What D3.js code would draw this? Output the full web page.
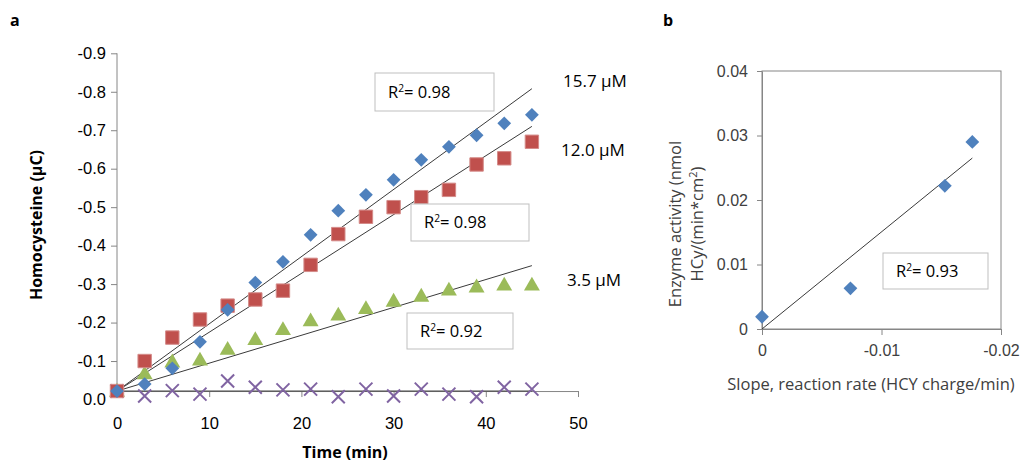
<!DOCTYPE html>
<html>
<head>
<meta charset="utf-8">
<script src="https://cdn.jsdelivr.net/npm/d3@7"></script>
<style>
  body { margin: 0; background: #fff; }
  svg { font-family: "Open Sans", sans-serif; }
  .axis-a text { font-size: 16.5px; fill: #000; }
  .axis-a path, .axis-a line { stroke: #868686; }
  .axis-b text { font-size: 16px; fill: #404040; }
  .axis-b path, .axis-b line { stroke: #868686; }
</style>
</head>
<body>
<div id="chart"></div>
<script>
// ---- panel a data (time in min, homocysteine charge in uC) ----
const times = [0, 3, 6, 9, 12, 15, 18, 21, 24, 27, 30, 33, 36, 39, 42, 45];
const hcy157 = [-0.022, -0.040, -0.081, -0.150, -0.233, -0.304, -0.358, -0.428, -0.491, -0.532, -0.571, -0.623, -0.657, -0.687, -0.718, -0.740];
const hcy120 = [-0.022, -0.100, -0.161, -0.208, -0.244, -0.260, -0.283, -0.350, -0.430, -0.475, -0.500, -0.526, -0.545, -0.611, -0.627, -0.670];
const hcy35  = [-0.022, -0.067, -0.098, -0.103, -0.131, -0.156, -0.182, -0.205, -0.220, -0.237, -0.256, -0.269, -0.285, -0.293, -0.298, -0.298];
const hcy0   = [-0.022, -0.009, -0.023, -0.014, -0.048, -0.032, -0.025, -0.027, -0.007, -0.027, -0.009, -0.027, -0.014, -0.007, -0.032, -0.027];
// trendline end values (value at t=0, value at t=45)
const trend157 = [-0.022, -0.808];
const trend120 = [-0.022, -0.710];
const trend35  = [-0.022, -0.348];
const trend0   = [-0.022, -0.022];
const concLabels = ["15.7 \u00b5M", "12.0 \u00b5M", "3.5 \u00b5M"];
const r2a = ["0.98", "0.98", "0.92"];
const xTicksA = [0, 10, 20, 30, 40, 50];
const yTicksA = [0, -0.1, -0.2, -0.3, -0.4, -0.5, -0.6, -0.7, -0.8, -0.9];
const yTickLabelsA = ["0.0", "-0.1", "-0.2", "-0.3", "-0.4", "-0.5", "-0.6", "-0.7", "-0.8", "-0.9"];
const xCrossA = -0.022;

// ---- panel b data (slope vs enzyme activity) ----
const slopes = [0, -0.0074, -0.0153, -0.0176];
const activity = [0.0019, 0.0063, 0.0222, 0.0290];
const trendB = [[0, 0], [-0.0176, 0.0265]];
const r2b = "0.93";
const xTicksB = [0, -0.01, -0.02];
const xTickLabelsB = ["0", "-0.01", "-0.02"];
const yTicksB = [0, 0.01, 0.02, 0.03, 0.04];
const yTickLabelsB = ["0", "0.01", "0.02", "0.03", "0.04"];

const W = 1020, H = 462;
const svg = d3.select("#chart").append("svg")
    .attr("width", W)
    .attr("height", H);

//---------------- panel a ----------------
const xa = d3.scaleLinear().domain([0, 50]).range([117, 578]);
const ya = d3.scaleLinear().domain([0, -0.9]).range([399.5, 53.3]);

svg.append("text").attr("x", 10).attr("y", 26)
    .style("font-weight", "bold").style("font-size", "16px").text("a");

svg.append("g").attr("class", "axis-a")
    .attr("transform", `translate(0,${ya(xCrossA)})`)
    .call(d3.axisBottom(xa).tickValues(xTicksA).tickSize(6).tickSizeOuter(0).tickPadding(20));

const gya = svg.append("g").attr("class", "axis-a")
    .attr("transform", `translate(${xa(0)},0)`)
    .call(d3.axisLeft(ya).tickValues(yTicksA).tickSize(6).tickSizeOuter(0).tickPadding(5)
        .tickFormat((d, i) => yTickLabelsA[i]));
gya.select(".domain").remove();
gya.selectAll(".tick").filter(d => d === 0).select("line").remove();
gya.append("line")
    .attr("y1", ya(-0.9)).attr("y2", ya(xCrossA))
    .attr("stroke", "#868686");

// trendlines
const trendsA = [trend157, trend120, trend35, trend0];
svg.append("g").selectAll("line")
    .data(trendsA)
    .join("line")
    .attr("x1", xa(0)).attr("x2", xa(45))
    .attr("y1", d => ya(d[0])).attr("y2", d => ya(d[1]))
    .attr("stroke", "#3a3a3a").attr("stroke-width", 1);

function pts(vals) { return times.map((t, i) => [t, vals[i]]); }

// purple crosses (0 uM)
svg.append("g").selectAll("path")
    .data(pts(hcy0))
    .join("path")
    .attr("transform", d => `translate(${xa(d[0])},${ya(d[1])})`)
    .attr("d", d3.symbol(d3.symbolX, 112))
    .attr("fill", "none").attr("stroke", "#8064A2").attr("stroke-width", 2);

// green triangles (3.5 uM)
svg.append("g").selectAll("path")
    .data(pts(hcy35))
    .join("path")
    .attr("transform", d => `translate(${xa(d[0])},${ya(d[1]) + 1})`)
    .attr("d", d3.symbol(d3.symbolTriangle, 110))
    .attr("fill", "#9BBB59");

// red squares (12.0 uM)
svg.append("g").selectAll("path")
    .data(pts(hcy120))
    .join("path")
    .attr("transform", d => `translate(${xa(d[0])},${ya(d[1])})`)
    .attr("d", d3.symbol(d3.symbolSquare, 180))
    .attr("fill", "#C0504D").attr("stroke", "#d48b89").attr("stroke-width", 1);

// blue diamonds (15.7 uM)
svg.append("g").selectAll("path")
    .data(pts(hcy157))
    .join("path")
    .attr("transform", d => `translate(${xa(d[0])},${ya(d[1])}) rotate(45)`)
    .attr("d", d3.symbol(d3.symbolSquare, 95))
    .attr("fill", "#4F81BD");

// R2 boxes
function r2box(g, x, y, w, h, val, fs) {
    g.append("rect").attr("x", x).attr("y", y).attr("width", w).attr("height", h)
        .attr("fill", "#fff").attr("stroke", "#bfbfbf");
    const t = g.append("text").attr("x", x + 13).attr("y", y + h / 2 + fs * 0.36)
        .style("font-size", fs + "px").attr("fill", "#000");
    t.append("tspan").text("R");
    t.append("tspan").attr("dy", -fs * 0.38).style("font-size", (fs * 0.62) + "px").text("2");
    t.append("tspan").attr("dy", fs * 0.38).text("= " + val);
}
const boxesA = [[375, 73, 119, 38], [411, 204, 118, 37], [407, 313, 106, 36]];
boxesA.forEach((b, i) => r2box(svg, b[0], b[1], b[2], b[3], r2a[i], 16.5));

// concentration labels
const concPos = [[563, 81], [561, 150], [567, 280]];
svg.append("g").selectAll("text")
    .data(concLabels)
    .join("text")
    .attr("x", (d, i) => concPos[i][0]).attr("y", (d, i) => concPos[i][1] + 6)
    .style("font-size", "17px").text(d => d);

// axis titles
svg.append("text")
    .attr("transform", "translate(42,225) rotate(-90)")
    .attr("text-anchor", "middle")
    .style("font-weight", "bold").style("font-size", "16px")
    .text("Homocysteine (\u00b5C)");
svg.append("text")
    .attr("x", 345).attr("y", 458)
    .attr("text-anchor", "middle")
    .style("font-weight", "bold").style("font-size", "16px")
    .text("Time (min)");

//---------------- panel b ----------------
const xb = d3.scaleLinear().domain([0, -0.02]).range([762, 1001]);
const yb = d3.scaleLinear().domain([0, 0.04]).range([329, 71]);

svg.append("text").attr("x", 663).attr("y", 26)
    .style("font-weight", "bold").style("font-size", "16px").text("b");

svg.append("rect")
    .attr("x", xb(0)).attr("y", yb(0.04))
    .attr("width", xb(-0.02) - xb(0)).attr("height", yb(0) - yb(0.04))
    .attr("fill", "none").attr("stroke", "#868686");

svg.append("g").attr("class", "axis-b")
    .attr("transform", `translate(0,${yb(0)})`)
    .call(d3.axisBottom(xb).tickValues(xTicksB).tickSize(6).tickSizeOuter(0).tickPadding(10)
        .tickFormat((d, i) => xTickLabelsB[i]));

svg.append("g").attr("class", "axis-b")
    .attr("transform", `translate(${xb(0)},0)`)
    .call(d3.axisLeft(yb).tickValues(yTicksB).tickSize(5).tickSizeOuter(0).tickPadding(9)
        .tickFormat((d, i) => yTickLabelsB[i]));

svg.append("line")
    .attr("x1", xb(trendB[0][0])).attr("y1", yb(trendB[0][1]))
    .attr("x2", xb(trendB[1][0])).attr("y2", yb(trendB[1][1]))
    .attr("stroke", "#3a3a3a").attr("stroke-width", 1);

svg.append("g").selectAll("path")
    .data(slopes.map((s, i) => [s, activity[i]]))
    .join("path")
    .attr("transform", d => `translate(${xb(d[0])},${yb(d[1])}) rotate(45)`)
    .attr("d", d3.symbol(d3.symbolSquare, 95))
    .attr("fill", "#4F81BD");

const gb = svg.append("g");
r2box(gb, 883, 253, 105, 36, r2b, 16.5);

svg.append("text")
    .attr("x", 871).attr("y", 390)
    .attr("text-anchor", "middle")
    .style("font-size", "16.5px").attr("fill", "#404040")
    .text("Slope, reaction rate (HCY charge/min)");

const yTitle = svg.append("text")
    .attr("transform", "translate(0,224) rotate(-90)")
    .attr("text-anchor", "middle")
    .style("font-size", "16.5px").attr("fill", "#404040");
yTitle.append("tspan").attr("x", 0).attr("y", 681).text("Enzyme activity (nmol");
const l2 = yTitle.append("tspan").attr("x", 0).attr("y", 703);
l2.append("tspan").text("HCy/(min*cm");
l2.append("tspan").attr("dy", -6).style("font-size", "11px").text("2");
l2.append("tspan").attr("dy", 6).text(")");
</script>
</body>
</html>
